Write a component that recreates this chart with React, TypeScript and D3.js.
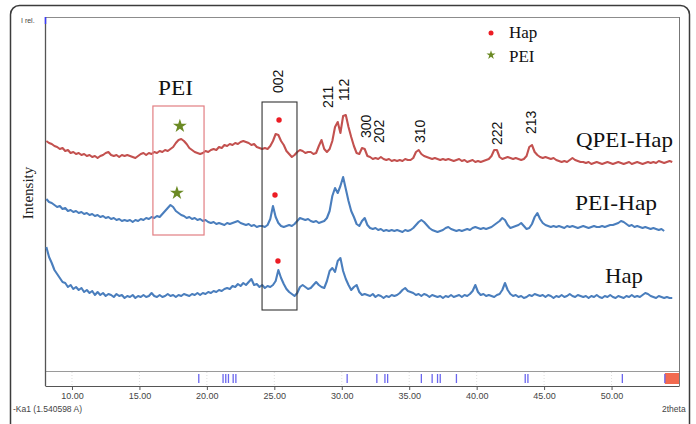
import React, { useEffect, useRef } from 'react';
import * as d3 from 'd3';

// scan grid (deg 2theta)
const angleStart = 8.1;
const angleStep = 0.2;

// QPEI-Hap counts, one value per step
const qpeiHap = [
  230, 228, 227, 225, 224, 222, 223, 220, 221, 218,
  219, 217, 218, 216, 217, 215, 216, 214, 215, 213,
  215, 216, 218, 219, 216, 215, 216, 214, 216, 215,
  216, 215, 214, 213, 215, 217, 218, 216, 218, 217,
  219, 218, 220, 219, 221, 220, 222, 224, 228, 231,
  232, 230, 227, 223, 221, 219, 218, 217, 218, 220,
  219, 221, 222, 221, 224, 223, 226, 225, 227, 226,
  228, 227, 229, 230, 229, 228, 226, 227, 224, 223,
  222, 223, 222, 225, 230, 237, 236, 230, 226, 220,
  217, 214, 216, 219, 221, 220, 218, 219, 219, 217,
  218, 225, 231, 222, 219, 222, 230, 244, 249, 238,
  255, 256, 244, 234, 225, 218, 217, 223, 222, 215,
  214, 212, 213, 212, 214, 212, 211, 212, 210, 211,
  210, 211, 210, 212, 211, 211, 213, 219, 221, 217,
  215, 214, 213, 212, 213, 212, 211, 212, 211, 212,
  211, 210, 211, 212, 210, 211, 209, 210, 211, 209,
  210, 209, 210, 211, 212, 215, 221, 221, 214, 212,
  213, 214, 213, 212, 213, 212, 211, 212, 215, 224,
  226, 219, 216, 214, 213, 214, 213, 212, 213, 211,
  210, 209, 210, 209, 211, 213, 211, 210, 209, 209,
  208, 209, 207, 208, 209, 208, 207, 208, 209, 208,
  207, 208, 209, 208, 207, 208, 209, 207, 208, 209,
  208, 207, 208, 209, 208, 209, 208, 210, 209, 208,
  209, 210, 209,
];

// PEI-Hap counts
const peiHap = [
  172, 169, 168, 166, 164, 165, 162, 163, 160, 161,
  159, 160, 158, 159, 157, 158, 156, 157, 155, 156,
  154, 155, 153, 154, 152, 153, 151, 152, 150, 151,
  150, 151, 149, 151, 150, 152, 151, 153, 152, 154,
  153, 155, 154, 157, 160, 163, 166, 164, 160, 158,
  156, 155, 153, 154, 152, 153, 151, 152, 150, 151,
  149, 148, 149, 147, 148, 147, 146, 148, 147, 148,
  149, 150, 148, 147, 146, 147, 145, 146, 144, 145,
  145, 144, 146, 152, 165, 154, 148, 145, 144, 145,
  146, 145, 147, 150, 153, 152, 151, 152, 150, 149,
  150, 148, 149, 150, 153, 160, 175, 183, 178, 185,
  194, 182, 170, 160, 154, 147, 145, 150, 153, 146,
  143, 142, 143, 141, 142, 140, 141, 140, 141, 140,
  141, 140, 139, 141, 140, 141, 143, 146, 149, 151,
  149, 146, 143, 141, 140, 139, 140, 141, 143, 144,
  142, 141, 140, 141, 140, 141, 142, 141, 143, 144,
  143, 142, 143, 142, 143, 144, 146, 148, 150, 153,
  151, 146, 143, 144, 145, 146, 148, 145, 142, 143,
  147, 154, 158, 152, 148, 146, 145, 144, 145, 144,
  145, 144, 143, 145, 144, 145, 144, 143, 144, 145,
  144, 143, 144, 145, 144, 144, 145, 144, 145, 146,
  146, 147, 148, 150, 149, 147, 145, 146, 144, 145,
  144, 143, 144, 143, 142, 143, 142, 141, 142, 140,
];

// Hap counts
const hap = [
  124, 114, 108, 101, 97, 93, 89, 88, 84, 86,
  82, 84, 81, 83, 79, 81, 78, 80, 76, 79,
  76, 78, 75, 77, 76, 74, 77, 75, 76, 73,
  75, 74, 76, 73, 75, 74, 76, 74, 75, 78,
  75, 74, 76, 74, 75, 77, 75, 76, 74, 76,
  75, 77, 76, 75, 77, 76, 78, 76, 78, 77,
  79, 78, 80, 79, 81, 80, 82, 83, 82, 85,
  84, 87, 85, 88, 86, 89, 92, 86, 87, 84,
  86, 83, 85, 84, 86, 90, 101, 93, 87, 82,
  79, 77, 75, 78, 84, 86, 84, 82, 83, 86,
  89, 86, 84, 83, 90, 100, 103, 99, 110, 113,
  100, 92, 86, 81, 84, 86, 79, 76, 77, 76,
  75, 77, 74, 76, 75, 73, 75, 74, 76, 75,
  76, 78, 81, 83, 80, 79, 78, 76, 77, 75,
  77, 76, 74, 76, 75, 74, 75, 73, 75, 74,
  76, 74, 75, 76, 74, 76, 75, 77, 80, 86,
  79, 76, 77, 75, 76, 75, 74, 76, 77, 81,
  88, 81, 77, 75, 76, 74, 75, 73, 74, 76,
  75, 77, 76, 75, 76, 74, 76, 75, 73, 75,
  74, 76, 74, 75, 77, 75, 74, 76, 75, 74,
  75, 73, 75, 74, 76, 74, 73, 75, 74, 76,
  74, 73, 75, 74, 73, 75, 74, 76, 74, 75,
  74, 76, 78, 77, 75, 74, 73, 75, 74, 73,
  74, 73, 73,
];

// reference pattern (PDF card) lines
const refPeaks = [19.4, 21.2, 21.4, 21.6, 21.95, 22.15, 30.4, 32.6, 33.2, 33.4, 35.9, 36.7, 37.1, 37.3, 38.5, 43.6, 43.8, 50.8, 53.95];
const xTicks = [10, 15, 20, 25, 30, 35, 40, 45, 50];

// hkl annotations
const hklLabels = ['002', '211', '112', '300', '202', '310', '222', '213'];
const hklAngles = [25.27, 28.98, 30.17, 31.8, 32.76, 35.8, 41.51, 44.03];
const hklLevels = [278, 263, 270, 233, 228, 228, 226, 237];

// phase markers
const hapMarkAngles = [25.35, 25.05, 25.27];
const hapMarkLevels = [251, 176, 110];
const peiMarkAngles = [18.0, 17.78];
const peiMarkLevels = [245, 178];

const seriesNames = ['QPEI-Hap', 'PEI-Hap', 'Hap'];

export default function App() {
  const ref = useRef<SVGSVGElement>(null);

  useEffect(() => {
    const svg = d3.select(ref.current);
    svg.selectAll('*').remove();

    const serif = '"Liberation Serif", "Times New Roman", serif';
    const sans = '"Liberation Sans", Arial, sans-serif';

    const x = d3.scaleLinear().domain([8, 55]).range([45, 679]);
    const y = d3.scaleLinear().domain([0, 354]).range([371, 17]);

    // card border
    svg.append('rect')
      .attr('x', 10.5).attr('y', 5.5).attr('width', 679).attr('height', 440).attr('rx', 9)
      .attr('fill', 'none').attr('stroke', '#3c3c3c').attr('stroke-width', 1.5);

    // plot frame
    svg.append('line').attr('x1', 45).attr('x2', 679).attr('y1', 17.5).attr('y2', 17.5).attr('stroke', '#8c8c8c');
    svg.append('line').attr('x1', 679.5).attr('x2', 679.5).attr('y1', 17).attr('y2', 386).attr('stroke', '#777');
    svg.append('line').attr('x1', 45).attr('x2', 679).attr('y1', 371.5).attr('y2', 371.5).attr('stroke', '#9a9a9a');
    svg.append('line').attr('x1', 45.5).attr('x2', 45.5).attr('y1', 17).attr('y2', 386).attr('stroke', '#555').attr('stroke-width', 1.3);
    svg.append('line').attr('x1', 45.5).attr('x2', 45.5).attr('y1', 17).attr('y2', 24).attr('stroke', '#3b3bff').attr('stroke-width', 1.5);

    // faint grid in pattern band
    svg.append('g').selectAll('line').data(xTicks).enter().append('line')
      .attr('x1', d => x(d)).attr('x2', d => x(d)).attr('y1', 372).attr('y2', 386)
      .attr('stroke', '#ddd').attr('stroke-dasharray', '1,2');

    // reference pattern
    svg.append('rect')
      .attr('x', x(53.95)).attr('y', 373).attr('width', 679 - x(53.95)).attr('height', 11)
      .attr('fill', '#f26a4f');
    svg.append('g').selectAll('line').data(refPeaks).enter().append('line')
      .attr('x1', d => x(d)).attr('x2', d => x(d)).attr('y1', 374).attr('y2', 383)
      .attr('stroke', '#6a66ee').attr('stroke-width', 1.3);

    // x axis
    const axis = svg.append('g')
      .attr('transform', 'translate(0,386)')
      .call(d3.axisBottom(x).tickValues(xTicks).tickFormat(d3.format('.2f')).tickSize(4).tickSizeOuter(0));
    axis.select('.domain').attr('stroke', '#555');
    axis.selectAll('.tick line').attr('stroke', '#555');
    axis.selectAll('text').attr('font-family', sans).attr('font-size', 9).attr('fill', '#444');

    svg.append('text').attr('x', 662).attr('y', 412).attr('font-family', sans).attr('font-size', 8.5).attr('fill', '#444').text('2theta');
    svg.append('text').attr('x', 13).attr('y', 412).attr('font-family', sans).attr('font-size', 8.5).attr('fill', '#444').text('-Ka1 (1.540598 A)');
    svg.append('text').attr('x', 21).attr('y', 23).attr('font-family', sans).attr('font-size', 7).attr('fill', '#444').text('I rel.');

    svg.append('text')
      .attr('transform', 'translate(33,193) rotate(-90)')
      .attr('text-anchor', 'middle').attr('font-family', serif).attr('font-size', 15).attr('fill', '#222')
      .text('Intensity');

    // patterns
    const line = d3.line<number>()
      .x((d, i) => x(angleStart + i * angleStep))
      .y(d => y(d));
    const colors = ['#c3514f', '#4a7ebd', '#4a7ebd'];
    [qpeiHap, peiHap, hap].forEach((s, k) => {
      svg.append('path').datum(s)
        .attr('d', line)
        .attr('fill', 'none').attr('stroke', colors[k]).attr('stroke-width', 2.1)
        .attr('stroke-linejoin', 'round');
    });

    // boxes
    svg.append('rect')
      .attr('x', x(16.0)).attr('y', y(265)).attr('width', x(19.79) - x(16.0)).attr('height', y(136) - y(265))
      .attr('fill', 'none').attr('stroke', '#e27e82').attr('stroke-width', 1.2);
    svg.append('rect')
      .attr('x', x(24.09)).attr('y', y(269)).attr('width', x(26.68) - x(24.09)).attr('height', y(61) - y(269))
      .attr('fill', 'none').attr('stroke', '#333').attr('stroke-width', 1.1);

    // markers
    const star = d3.symbol().type(d3.symbolStar);
    hapMarkAngles.forEach((a, i) => {
      svg.append('circle').attr('cx', x(a)).attr('cy', y(hapMarkLevels[i])).attr('r', 2.7).attr('fill', '#ec1c24');
    });
    peiMarkAngles.forEach((a, i) => {
      svg.append('path').attr('d', star.size(60)())
        .attr('transform', `translate(${x(a)},${y(peiMarkLevels[i])})`).attr('fill', '#6b8a24');
    });

    // hkl labels
    hklLabels.forEach((t, i) => {
      svg.append('text')
        .attr('transform', `translate(${x(hklAngles[i]) + 5},${y(hklLevels[i])}) rotate(-90)`)
        .attr('font-family', sans).attr('font-size', 14).attr('fill', '#111')
        .text(t);
    });

    // text labels
    svg.append('text').attr('x', 158).attr('y', 95).attr('font-family', serif).attr('font-size', 22)
      .attr('textLength', 35).attr('lengthAdjust', 'spacingAndGlyphs').attr('fill', '#111').text('PEI');
    const nameX = [576, 575, 605];
    const nameY = [147, 210, 283];
    const nameW = [97, 82, 38];
    seriesNames.forEach((n, i) => {
      svg.append('text').attr('x', nameX[i]).attr('y', nameY[i]).attr('font-family', serif).attr('font-size', 21)
        .attr('textLength', nameW[i]).attr('lengthAdjust', 'spacingAndGlyphs').attr('fill', '#111').text(n);
    });

    // legend
    svg.append('circle').attr('cx', 491).attr('cy', 33).attr('r', 2.5).attr('fill', '#ec1c24');
    svg.append('text').attr('x', 509).attr('y', 38).attr('font-family', serif).attr('font-size', 17).attr('fill', '#111').text('Hap');
    svg.append('path').attr('d', star.size(26)()).attr('transform', 'translate(491,55)').attr('fill', '#6b8a24');
    svg.append('text').attr('x', 509).attr('y', 62).attr('font-family', serif).attr('font-size', 17).attr('fill', '#111').text('PEI');
  }, []);

  return (
    <svg ref={ref} width={696} height={424} style={{ position: 'absolute', left: 0, top: 0, background: '#fff' }} />
  );
}
